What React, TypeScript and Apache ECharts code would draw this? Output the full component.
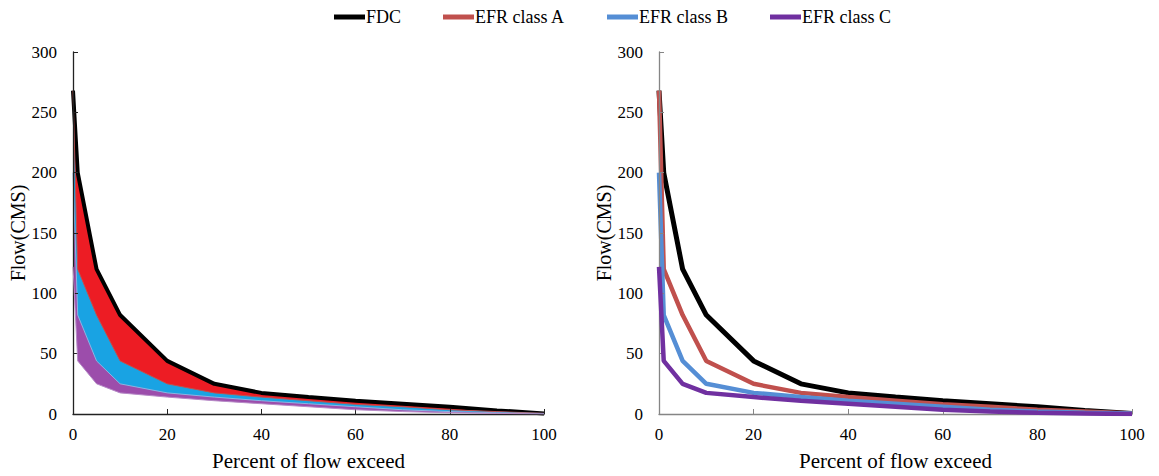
import React, { useEffect, useRef } from "react";
import * as echarts from "echarts";

const pct = [0, 1, 5, 10, 20, 30, 40, 50, 60, 70, 80, 90, 100];
const fdc = [268, 200, 120, 82, 44, 25, 17.5, 14, 11, 8.5, 6, 3, 0.5];
const efrA = [268, 120, 82, 44, 25, 17.5, 14, 11, 8, 6, 3.5, 2, 0.5];
const efrB = [200, 82, 44, 25, 17.5, 14, 11, 8.5, 6, 3.5, 2, 1, 0.5];
const efrC = [122, 44, 25, 17.5, 14, 11, 8.5, 6, 3.5, 2, 1, 0.5, 0];
const seriesNames = ["FDC", "EFR class A", "EFR class B", "EFR class C"];
const xTicks = [0, 20, 40, 60, 80, 100];
const yTicks = [0, 50, 100, 150, 200, 250, 300];

const FONT = "'Liberation Serif', 'Times New Roman', serif";

const pairs = (ys: number[]) => pct.map((x, i) => [x, ys[i]]);

export default function App() {
  const ref = useRef<HTMLDivElement>(null);
  useEffect(() => {
    if (!ref.current) return;
    const chart = echarts.init(ref.current, null, { renderer: "svg" });
    const lineColors = ["#000000", "#c0504d", "#558ed5", "#7030a0"];
    const fillColors = ["#ed1c24", "#19a3e3", "#9c4dab", "#ffffff"];
    const edgeColors = ["#000000", "#c0504d", "#8db4e2", "#b68ac6"];
    const data = [fdc, efrA, efrB, efrC];

    const mkX = (idx: number, axisColor: string) => ({
      type: "value",
      gridIndex: idx,
      min: xTicks[0],
      max: xTicks[xTicks.length - 1],
      interval: 20,
      z: 5,
      splitLine: { show: false },
      axisLine: { show: true, lineStyle: { color: axisColor, width: 1.3 } },
      axisTick: { show: true, inside: true, length: 5, lineStyle: { color: axisColor } },
      axisLabel: { color: "#000", fontFamily: FONT, fontSize: 17, margin: 12 },
      name: "Percent of flow exceed",
      nameLocation: "middle",
      nameGap: 36,
      nameTextStyle: { color: "#000", fontFamily: FONT, fontSize: 21 },
    });
    const mkY = (idx: number, axisColor: string) => ({
      type: "value",
      gridIndex: idx,
      min: yTicks[0],
      max: yTicks[yTicks.length - 1],
      interval: 50,
      z: 5,
      splitLine: { show: false },
      axisLine: { show: true, lineStyle: { color: axisColor, width: 1.3 } },
      axisTick: { show: true, inside: true, length: 5, lineStyle: { color: axisColor } },
      axisLabel: { color: "#000", fontFamily: FONT, fontSize: 17, margin: 16 },
      name: "Flow(CMS)",
      nameLocation: "middle",
      nameGap: 44,
      nameTextStyle: { color: "#000", fontFamily: FONT, fontSize: 20 },
    });

    const leftSeries = data.map((ys, i) => ({
      type: "line",
      name: seriesNames[i] + " area",
      xAxisIndex: 0,
      yAxisIndex: 0,
      data: pairs(ys),
      symbol: "none",
      z: 2 + i,
      lineStyle: { color: edgeColors[i], width: i === 0 ? 4 : 1 },
      itemStyle: { color: fillColors[i] },
      areaStyle: { color: fillColors[i], opacity: 1 },
    }));
    const rightSeries = data.map((ys, i) => ({
      type: "line",
      name: seriesNames[i],
      xAxisIndex: 1,
      yAxisIndex: 1,
      data: pairs(ys),
      symbol: "none",
      z: 2 + i,
      lineStyle: { color: lineColors[i], width: i === 0 ? 5 : 4.5 },
      itemStyle: { color: lineColors[i] },
    }));

    chart.setOption({
      animation: false,
      backgroundColor: "#ffffff",
      legend: {
        data: seriesNames,
        top: 3,
        left: 329,
        icon: "rect",
        itemWidth: 31,
        itemHeight: 5,
        itemGap: 42,
        textStyle: { color: "#000", fontFamily: FONT, fontSize: 18, padding: [0, 0, 0, -4] },
      },
      grid: [
        { left: 73, right: 615, top: 52, bottom: 62 },
        { left: 659, right: 27, top: 52, bottom: 62 },
      ],
      xAxis: [mkX(0, "#222"), mkX(1, "#858585")],
      yAxis: [mkY(0, "#222"), mkY(1, "#858585")],
      series: [...leftSeries, ...rightSeries],
    });
    return () => chart.dispose();
  }, []);
  return (
    <div
      ref={ref}
      style={{ position: "fixed", left: 0, top: 0, width: 1159, height: 476, background: "#fff" }}
    />
  );
}
